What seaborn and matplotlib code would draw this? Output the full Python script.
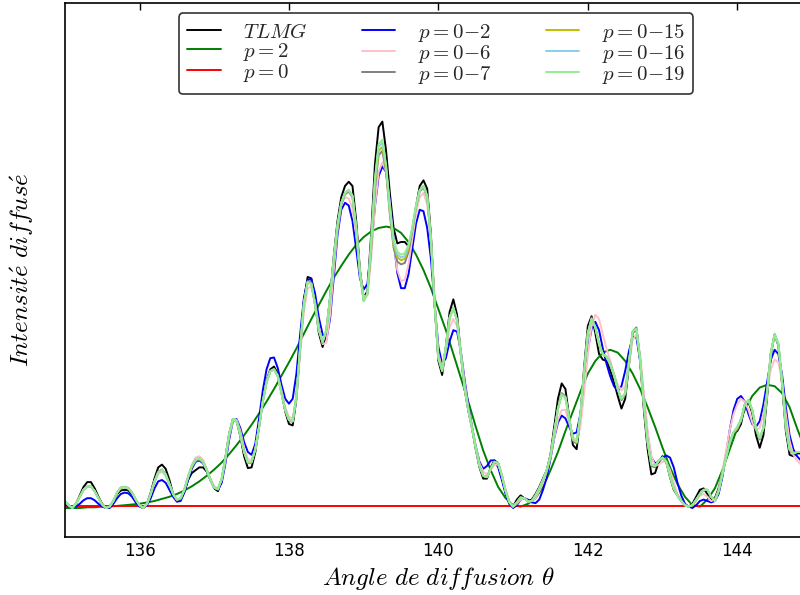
import numpy as np
import pandas as pd
import matplotlib
matplotlib.use("Agg")
import matplotlib.pyplot as plt
import seaborn as sns

# grille commune des courbes oscillantes (pas de 0.05 degre)
theta = np.linspace(135, 145, 201)

tlmg = [
    0.05, 0.02, 0.00, 0.03, 0.09, 0.15, 0.185, 0.185, 0.14, 0.08,
    0.03, 0.00, 0.01, 0.05, 0.10, 0.125, 0.13, 0.125, 0.10, 0.05,
    0.015, 0.00, 0.03, 0.11, 0.21, 0.29, 0.31, 0.28, 0.20, 0.10,
    0.05, 0.06, 0.12, 0.20, 0.25, 0.27, 0.29, 0.29, 0.26, 0.20,
    0.14, 0.12, 0.20, 0.36, 0.53, 0.635, 0.62, 0.51, 0.37, 0.285,
    0.29, 0.40, 0.58, 0.77, 0.91, 0.99, 1.01, 0.96, 0.83, 0.69,
    0.60, 0.59, 0.78, 1.15, 1.48, 1.65, 1.64, 1.47, 1.25, 1.15,
    1.25, 1.50, 1.80, 2.05, 2.22, 2.30, 2.33, 2.30, 2.05, 1.70,
    1.50, 1.55, 1.95, 2.45, 2.72, 2.76, 2.55, 2.25, 2.00, 1.89,
    1.90, 1.90, 1.87, 1.95, 2.15, 2.30, 2.34, 2.28, 1.95, 1.45,
    1.05, 0.95, 1.15, 1.40, 1.49, 1.38, 1.10, 0.85, 0.70, 0.57,
    0.42, 0.29, 0.21, 0.21, 0.29, 0.34, 0.32, 0.22, 0.11, 0.03,
    0.01, 0.06, 0.09, 0.07, 0.05, 0.06, 0.10, 0.15, 0.21, 0.27,
    0.38, 0.58, 0.78, 0.89, 0.85, 0.65, 0.45, 0.42, 0.65, 1.00,
    1.30, 1.37, 1.25, 1.10, 1.06, 1.05, 0.98, 0.90, 0.80, 0.71,
    0.78, 1.02, 1.25, 1.28, 1.05, 0.70, 0.42, 0.24, 0.25, 0.33,
    0.37, 0.33, 0.22, 0.13, 0.09, 0.05, 0.02, 0.01, 0.03, 0.08,
    0.13, 0.14, 0.10, 0.06, 0.07, 0.14, 0.25, 0.36, 0.47, 0.53,
    0.55, 0.60, 0.73, 0.76, 0.68, 0.52, 0.43, 0.52, 0.80, 1.10,
    1.24, 1.16, 0.88, 0.55, 0.38, 0.37, 0.39, 0.39, 0.37, 0.33,
    0.28,
]

p02 = [
    0.03, 0.01, 0.00, 0.01, 0.03, 0.055, 0.07, 0.07, 0.055, 0.03,
    0.01, 0.00, 0.00, 0.03, 0.07, 0.10, 0.11, 0.105, 0.08, 0.04,
    0.01, 0.00, 0.02, 0.07, 0.14, 0.19, 0.20, 0.18, 0.13, 0.08,
    0.045, 0.05, 0.11, 0.20, 0.28, 0.33, 0.34, 0.32, 0.27, 0.20,
    0.15, 0.13, 0.18, 0.32, 0.49, 0.62, 0.635, 0.57, 0.47, 0.40,
    0.38, 0.46, 0.64, 0.84, 0.99, 1.07, 1.075, 1.00, 0.88, 0.78,
    0.745, 0.78, 0.96, 1.24, 1.50, 1.63, 1.635, 1.53, 1.36, 1.24,
    1.20, 1.35, 1.65, 1.95, 2.13, 2.18, 2.16, 2.05, 1.85, 1.64,
    1.56, 1.60, 1.85, 2.15, 2.37, 2.44, 2.40, 2.20, 1.92, 1.68,
    1.57, 1.57, 1.67, 1.85, 2.03, 2.13, 2.12, 2.00, 1.78, 1.45,
    1.15, 1.03, 1.07, 1.19, 1.27, 1.26, 1.12, 0.92, 0.74, 0.58,
    0.44, 0.33, 0.28, 0.30, 0.34, 0.34, 0.29, 0.20, 0.10, 0.03,
    0.00, 0.02, 0.06, 0.07, 0.06, 0.04, 0.035, 0.06, 0.13, 0.22,
    0.35, 0.50, 0.61, 0.66, 0.64, 0.58, 0.53, 0.54, 0.67, 0.90,
    1.13, 1.28, 1.33, 1.27, 1.14, 1.03, 0.94, 0.87, 0.84, 0.87,
    0.98, 1.12, 1.22, 1.22, 1.05, 0.78, 0.52, 0.36, 0.32, 0.33,
    0.36, 0.375, 0.36, 0.29, 0.18, 0.09, 0.03, 0.01, 0.00, 0.02,
    0.05, 0.06, 0.05, 0.04, 0.05, 0.10, 0.22, 0.38, 0.56, 0.70,
    0.78, 0.80, 0.76, 0.67, 0.60, 0.58, 0.62, 0.74, 0.90, 1.06,
    1.13, 1.10, 0.95, 0.72, 0.52, 0.42, 0.37, 0.34, 0.32, 0.30,
    0.28,
]

p06 = [
    0.05, 0.02, 0.00, 0.03, 0.08, 0.13, 0.15, 0.15, 0.12, 0.07,
    0.025, 0.00, 0.01, 0.05, 0.11, 0.145, 0.155, 0.145, 0.11, 0.06,
    0.02, 0.00, 0.03, 0.10, 0.18, 0.245, 0.26, 0.23, 0.17, 0.10,
    0.06, 0.07, 0.14, 0.23, 0.31, 0.36, 0.37, 0.345, 0.28, 0.21,
    0.155, 0.14, 0.20, 0.34, 0.51, 0.62, 0.63, 0.55, 0.43, 0.35,
    0.34, 0.42, 0.58, 0.76, 0.90, 0.98, 0.99, 0.95, 0.84, 0.72,
    0.65, 0.64, 0.78, 1.10, 1.40, 1.57, 1.58, 1.47, 1.30, 1.17,
    1.18, 1.38, 1.70, 1.98, 2.16, 2.22, 2.21, 2.14, 1.95, 1.68,
    1.51, 1.52, 1.78, 2.15, 2.40, 2.47, 2.40, 2.18, 1.90, 1.70,
    1.62, 1.63, 1.74, 1.92, 2.10, 2.22, 2.25, 2.17, 1.90, 1.48,
    1.10, 1.00, 1.12, 1.29, 1.35, 1.30, 1.12, 0.90, 0.72, 0.58,
    0.44, 0.32, 0.26, 0.24, 0.27, 0.31, 0.31, 0.24, 0.13, 0.05,
    0.01, 0.03, 0.06, 0.07, 0.05, 0.05, 0.07, 0.12, 0.18, 0.26,
    0.36, 0.50, 0.63, 0.70, 0.70, 0.61, 0.51, 0.48, 0.58, 0.82,
    1.10, 1.30, 1.38, 1.35, 1.24, 1.14, 1.05, 0.96, 0.88, 0.84,
    0.87, 1.02, 1.20, 1.24, 1.10, 0.82, 0.55, 0.37, 0.30, 0.31,
    0.33, 0.33, 0.27, 0.18, 0.10, 0.05, 0.02, 0.01, 0.02, 0.05,
    0.09, 0.10, 0.08, 0.05, 0.06, 0.13, 0.26, 0.41, 0.56, 0.67,
    0.74, 0.78, 0.76, 0.70, 0.61, 0.56, 0.57, 0.67, 0.84, 0.99,
    1.06, 1.04, 0.90, 0.67, 0.48, 0.38, 0.34, 0.31, 0.29, 0.27,
    0.25,
]

p07 = [
    0.05, 0.02, 0.00, 0.03, 0.08, 0.13, 0.155, 0.155, 0.12, 0.07,
    0.025, 0.00, 0.01, 0.05, 0.11, 0.145, 0.15, 0.14, 0.11, 0.06,
    0.02, 0.00, 0.03, 0.10, 0.19, 0.26, 0.275, 0.245, 0.175, 0.10,
    0.055, 0.065, 0.13, 0.22, 0.29, 0.335, 0.345, 0.325, 0.27, 0.20,
    0.145, 0.13, 0.21, 0.36, 0.53, 0.635, 0.62, 0.52, 0.40, 0.32,
    0.325, 0.42, 0.58, 0.76, 0.90, 0.975, 0.995, 0.945, 0.82, 0.70,
    0.625, 0.615, 0.80, 1.15, 1.46, 1.62, 1.61, 1.45, 1.27, 1.18,
    1.27, 1.50, 1.78, 2.01, 2.17, 2.24, 2.26, 2.22, 2.00, 1.68,
    1.48, 1.53, 1.85, 2.28, 2.52, 2.55, 2.40, 2.10, 1.86, 1.76,
    1.74, 1.75, 1.83, 1.98, 2.15, 2.26, 2.29, 2.22, 1.92, 1.45,
    1.07, 0.98, 1.15, 1.36, 1.43, 1.34, 1.10, 0.86, 0.70, 0.57,
    0.43, 0.30, 0.23, 0.22, 0.28, 0.33, 0.32, 0.23, 0.12, 0.04,
    0.01, 0.04, 0.075, 0.07, 0.045, 0.05, 0.09, 0.14, 0.20, 0.27,
    0.37, 0.54, 0.71, 0.82, 0.80, 0.64, 0.48, 0.46, 0.66, 0.97,
    1.25, 1.36, 1.29, 1.17, 1.10, 1.08, 1.03, 0.95, 0.85, 0.77,
    0.81, 1.04, 1.26, 1.29, 1.06, 0.74, 0.47, 0.30, 0.29, 0.34,
    0.36, 0.33, 0.23, 0.14, 0.09, 0.05, 0.02, 0.01, 0.02, 0.06,
    0.10, 0.13, 0.13, 0.08, 0.05, 0.12, 0.24, 0.36, 0.47, 0.54,
    0.56, 0.62, 0.74, 0.77, 0.70, 0.56, 0.49, 0.57, 0.83, 1.11,
    1.24, 1.17, 0.90, 0.58, 0.41, 0.39, 0.40, 0.40, 0.38, 0.34,
    0.30,
]

p015 = [
    0.05, 0.02, 0.00, 0.03, 0.08, 0.13, 0.155, 0.155, 0.12, 0.07,
    0.025, 0.00, 0.01, 0.05, 0.11, 0.145, 0.15, 0.14, 0.11, 0.06,
    0.02, 0.00, 0.03, 0.10, 0.19, 0.255, 0.27, 0.24, 0.17, 0.10,
    0.06, 0.07, 0.13, 0.22, 0.30, 0.345, 0.355, 0.33, 0.27, 0.20,
    0.145, 0.135, 0.21, 0.36, 0.53, 0.635, 0.62, 0.52, 0.40, 0.325,
    0.33, 0.42, 0.58, 0.76, 0.90, 0.975, 0.99, 0.94, 0.82, 0.70,
    0.63, 0.62, 0.80, 1.15, 1.46, 1.615, 1.60, 1.45, 1.27, 1.185,
    1.27, 1.50, 1.78, 2.02, 2.18, 2.25, 2.27, 2.23, 2.00, 1.68,
    1.48, 1.53, 1.87, 2.31, 2.55, 2.58, 2.42, 2.12, 1.88, 1.79,
    1.77, 1.78, 1.85, 1.99, 2.15, 2.27, 2.30, 2.23, 1.92, 1.45,
    1.07, 0.98, 1.15, 1.36, 1.43, 1.34, 1.10, 0.86, 0.70, 0.57,
    0.43, 0.30, 0.23, 0.22, 0.28, 0.33, 0.32, 0.23, 0.12, 0.04,
    0.01, 0.04, 0.075, 0.07, 0.045, 0.05, 0.09, 0.14, 0.20, 0.27,
    0.37, 0.54, 0.71, 0.81, 0.79, 0.64, 0.49, 0.47, 0.66, 0.97,
    1.25, 1.35, 1.29, 1.17, 1.10, 1.08, 1.03, 0.95, 0.85, 0.78,
    0.82, 1.04, 1.26, 1.28, 1.06, 0.74, 0.47, 0.31, 0.30, 0.34,
    0.36, 0.33, 0.23, 0.14, 0.09, 0.05, 0.02, 0.01, 0.02, 0.06,
    0.10, 0.13, 0.13, 0.08, 0.05, 0.12, 0.24, 0.36, 0.47, 0.54,
    0.57, 0.63, 0.74, 0.77, 0.70, 0.57, 0.50, 0.57, 0.83, 1.11,
    1.24, 1.17, 0.90, 0.58, 0.42, 0.39, 0.40, 0.40, 0.38, 0.34,
    0.30,
]

p016 = [
    0.05, 0.02, 0.00, 0.03, 0.08, 0.13, 0.155, 0.155, 0.12, 0.07,
    0.025, 0.00, 0.01, 0.05, 0.11, 0.145, 0.15, 0.14, 0.11, 0.06,
    0.02, 0.00, 0.03, 0.10, 0.19, 0.255, 0.27, 0.24, 0.17, 0.10,
    0.06, 0.07, 0.13, 0.22, 0.30, 0.345, 0.355, 0.33, 0.27, 0.20,
    0.145, 0.135, 0.21, 0.36, 0.53, 0.635, 0.62, 0.52, 0.40, 0.325,
    0.33, 0.42, 0.58, 0.76, 0.90, 0.975, 0.99, 0.94, 0.82, 0.70,
    0.63, 0.62, 0.80, 1.15, 1.46, 1.615, 1.60, 1.45, 1.27, 1.185,
    1.27, 1.50, 1.78, 2.02, 2.18, 2.25, 2.27, 2.23, 2.00, 1.68,
    1.48, 1.53, 1.89, 2.34, 2.58, 2.61, 2.44, 2.13, 1.90, 1.81,
    1.79, 1.80, 1.87, 2.00, 2.16, 2.27, 2.30, 2.23, 1.92, 1.45,
    1.07, 0.98, 1.15, 1.36, 1.43, 1.34, 1.10, 0.86, 0.70, 0.57,
    0.43, 0.30, 0.23, 0.22, 0.28, 0.33, 0.32, 0.23, 0.12, 0.04,
    0.01, 0.04, 0.075, 0.07, 0.045, 0.05, 0.09, 0.14, 0.20, 0.27,
    0.37, 0.54, 0.71, 0.81, 0.79, 0.64, 0.49, 0.47, 0.66, 0.97,
    1.25, 1.35, 1.29, 1.17, 1.10, 1.08, 1.03, 0.95, 0.85, 0.78,
    0.82, 1.04, 1.26, 1.28, 1.06, 0.74, 0.47, 0.31, 0.30, 0.34,
    0.36, 0.33, 0.23, 0.14, 0.09, 0.05, 0.02, 0.01, 0.02, 0.06,
    0.10, 0.13, 0.13, 0.08, 0.05, 0.12, 0.24, 0.36, 0.47, 0.54,
    0.58, 0.63, 0.74, 0.77, 0.70, 0.57, 0.50, 0.57, 0.83, 1.11,
    1.24, 1.17, 0.90, 0.58, 0.42, 0.39, 0.40, 0.40, 0.38, 0.34,
    0.30,
]

p019 = [
    0.05, 0.02, 0.00, 0.03, 0.08, 0.13, 0.155, 0.155, 0.12, 0.07,
    0.025, 0.00, 0.01, 0.05, 0.11, 0.145, 0.15, 0.14, 0.11, 0.06,
    0.02, 0.00, 0.03, 0.10, 0.19, 0.255, 0.27, 0.24, 0.17, 0.10,
    0.06, 0.07, 0.13, 0.22, 0.30, 0.345, 0.355, 0.33, 0.27, 0.20,
    0.145, 0.135, 0.21, 0.36, 0.53, 0.635, 0.62, 0.52, 0.40, 0.325,
    0.33, 0.42, 0.58, 0.76, 0.90, 0.975, 0.99, 0.94, 0.82, 0.70,
    0.63, 0.62, 0.80, 1.15, 1.46, 1.615, 1.60, 1.45, 1.27, 1.185,
    1.27, 1.50, 1.78, 2.02, 2.18, 2.25, 2.27, 2.23, 2.00, 1.68,
    1.48, 1.53, 1.90, 2.35, 2.60, 2.63, 2.45, 2.15, 1.92, 1.83,
    1.81, 1.82, 1.88, 2.00, 2.16, 2.27, 2.30, 2.23, 1.92, 1.45,
    1.07, 0.98, 1.15, 1.36, 1.43, 1.34, 1.10, 0.86, 0.70, 0.57,
    0.43, 0.30, 0.23, 0.22, 0.28, 0.33, 0.32, 0.23, 0.12, 0.04,
    0.01, 0.04, 0.075, 0.07, 0.045, 0.05, 0.09, 0.14, 0.20, 0.27,
    0.37, 0.54, 0.71, 0.81, 0.79, 0.64, 0.49, 0.47, 0.66, 0.97,
    1.25, 1.35, 1.29, 1.17, 1.10, 1.08, 1.03, 0.95, 0.85, 0.78,
    0.82, 1.04, 1.26, 1.28, 1.06, 0.74, 0.47, 0.31, 0.30, 0.34,
    0.36, 0.33, 0.23, 0.14, 0.09, 0.05, 0.02, 0.01, 0.02, 0.06,
    0.10, 0.13, 0.13, 0.08, 0.05, 0.12, 0.24, 0.36, 0.47, 0.54,
    0.58, 0.63, 0.74, 0.77, 0.70, 0.57, 0.50, 0.57, 0.83, 1.11,
    1.24, 1.17, 0.90, 0.58, 0.42, 0.39, 0.40, 0.40, 0.38, 0.34,
    0.30,
]

# p=2 : courbe lisse, pas de 0.1
theta_p2 = np.linspace(135, 145, 101)
p2 = [
    0.00, 0.00, 0.00, 0.005, 0.005, 0.01, 0.01, 0.015, 0.02, 0.025,
    0.03, 0.04, 0.05, 0.065, 0.08, 0.10, 0.125, 0.155, 0.19, 0.23,
    0.275, 0.325, 0.385, 0.45, 0.52, 0.595, 0.675, 0.76, 0.85, 0.945,
    1.04, 1.14, 1.245, 1.35, 1.45, 1.55, 1.645, 1.73, 1.81, 1.88,
    1.935, 1.975, 2.00, 2.01, 2.00, 1.965, 1.90, 1.81, 1.70, 1.57,
    1.42, 1.27, 1.10, 0.93, 0.76, 0.58, 0.41, 0.27, 0.15, 0.07,
    0.02, 0.01, 0.03, 0.07, 0.15, 0.27, 0.40, 0.55, 0.69, 0.83,
    0.96, 1.05, 1.11, 1.13, 1.11, 1.05, 0.96, 0.85, 0.72, 0.58,
    0.43, 0.29, 0.17, 0.08, 0.02, 0.01, 0.06, 0.14, 0.27, 0.42,
    0.57, 0.70, 0.80, 0.86, 0.88, 0.87, 0.82, 0.72, 0.57, 0.43,
    0.30,
]

# p=0 : quasi nul
theta_p0 = [135, 145]
p0 = [0.015, 0.015]

labels = [r'$TLMG$', r'$p=2$', r'$p=0$', r'$p=0{-}2$', r'$p=0{-}6$',
          r'$p=0{-}7$', r'$p=0{-}15$', r'$p=0{-}16$', r'$p=0{-}19$']
couleurs = ['black', 'green', 'red', 'blue', 'pink',
            'gray', '#bfbf00', 'skyblue', 'lightgreen']
series = [(theta, tlmg), (theta_p2, p2), (theta_p0, p0), (theta, p02),
          (theta, p06), (theta, p07), (theta, p015), (theta, p016),
          (theta, p019)]

frames = []
for lab, (x, y) in zip(labels, series):
    frames.append(pd.DataFrame({'theta': x, 'intensite': y, 'serie': lab}))
df = pd.concat(frames, ignore_index=True)

sns.set_theme(style='white')
plt.rcParams['font.family'] = ['DejaVu Sans']
plt.rcParams['mathtext.fontset'] = 'cm'
plt.rcParams['xtick.direction'] = 'in'
plt.rcParams['ytick.direction'] = 'in'
plt.rcParams['xtick.top'] = True
plt.rcParams['ytick.right'] = True

fig = plt.figure(figsize=(8, 5.95), dpi=100)
ax = fig.add_axes([0.081, 0.0975, 0.934, 0.8975])

for lab, col in zip(labels, couleurs):
    sub = df[df['serie'] == lab]
    sns.lineplot(data=sub, x='theta', y='intensite', color=col, label=lab,
                 lw=1.4, ax=ax, sort=False, estimator=None)

ax.set_xlim(135, 145)
ax.set_ylim(-0.207, 3.607)
ax.set_xticks([136, 138, 140, 142, 144])
ax.set_yticks([0, 1, 2, 3])
ax.set_yticklabels([])
ax.tick_params(axis='both', length=5, width=1, color='black', labelsize=12,
               labelcolor='black')
for sp in ax.spines.values():
    sp.set_color('black')
    sp.set_linewidth(1.2)

ax.set_xlabel(r'$Angle\ de\ diffusion\ \theta$', fontsize=18, color='black')
ax.set_ylabel(r'$Intensit\acute{e}\ diffus\acute{e}$', fontsize=18, color='black')
ax.yaxis.set_label_coords(-0.038, 0.5)

leg = ax.legend(ncol=3, loc='upper center', bbox_to_anchor=(0.497, 1.0),
                fontsize=15, frameon=True, fancybox=True, labelspacing=-0.05,
                columnspacing=2.6, handlelength=1.6, handletextpad=1.1,
                borderpad=0.4)
leg.get_frame().set_edgecolor('black')
leg.get_frame().set_linewidth(1.2)

fig.savefig('out.png', dpi=100)
